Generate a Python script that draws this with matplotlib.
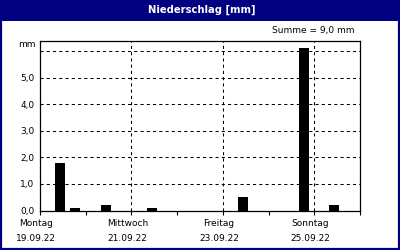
import matplotlib
matplotlib.use("Agg")
import matplotlib.pyplot as plt
from matplotlib.patches import Rectangle

# hourly offsets (hours since Montag 00:00) and rainfall in mm
hours = [10.6, 18.6, 34.6, 58.6, 106.6, 138.6, 154.6]
rain = [1.8, 0.1, 0.2, 0.1, 0.5, 6.1, 0.2]

day_names = ["Montag", "Mittwoch", "Freitag", "Sonntag"]
day_dates = ["19.09.22", "21.09.22", "23.09.22", "25.09.22"]
yticks = [0.0, 1.0, 2.0, 3.0, 4.0, 5.0]

NAVY = "#000080"
plt.rcParams["font.family"] = ["DejaVu Sans"]

fig = plt.figure(figsize=(4, 2.5), dpi=100)
fig.patch.set_facecolor("white")

# title bar + frame
fig.patches.append(Rectangle((0, 1 - 21 / 250), 1, 21 / 250, transform=fig.transFigure,
                             facecolor=NAVY, edgecolor="none", zorder=0))
fig.patches.append(Rectangle((0.0025, 0.004), 0.995, 0.99, transform=fig.transFigure,
                             facecolor="none", edgecolor=NAVY, linewidth=1.6, zorder=0))
fig.text(0.505, 1 - 9.5 / 250, "Niederschlag [mm]", color="white", fontsize=7.2,
         fontweight="bold", ha="center", va="center")

ax = fig.add_axes([40 / 400, 1 - 210.5 / 250, 320 / 400, 169.5 / 250])
ax.bar(hours, rain, width=5.25, color="black", zorder=3)

ax.set_xlim(0, 7 * 24)
ax.set_ylim(0, 6.38)

# grid lines
dash = (0, (3, 3))
for y in [1, 2, 3, 4, 5, 6]:
    ax.axhline(y, color="black", lw=0.75, ls=dash, zorder=1)
for d in [2, 4, 6]:
    ax.axvline(d * 24, color="black", lw=0.75, ls=dash, zorder=1)

for s in ax.spines.values():
    s.set_linewidth(0.9)

ax.set_yticks(yticks)
ax.set_yticklabels([f"{v:.1f}".replace(".", ",") for v in yticks], fontsize=6.5)
ax.tick_params(axis="y", length=0, pad=4)

ax.set_xticks([d * 24 for d in range(8)])
ax.set_xticklabels([])
ax.tick_params(axis="x", length=3, width=0.8, direction="out")

for i, (n, dt) in enumerate(zip(day_names, day_dates)):
    x = (i * 2 * 24 - 2) / (7 * 24)
    ax.text(x, -13 / 169.5, n, transform=ax.transAxes, ha="center", va="center", fontsize=6.5)
    ax.text(x, -28 / 169.5, dt, transform=ax.transAxes, ha="center", va="center", fontsize=6.5)

fig.text(36 / 400, 1 - 45 / 250, "mm", ha="right", va="center", fontsize=6.5)
fig.text(355 / 400, 1 - 31 / 250, "Summe = 9,0 mm", ha="right", va="center", fontsize=6.5)

fig.savefig("out.png", dpi=100)
